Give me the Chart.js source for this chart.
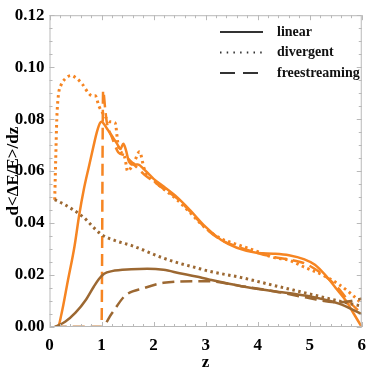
<!DOCTYPE html>
<html>
<head>
<meta charset="utf-8">
<script src="https://cdn.jsdelivr.net/npm/chart.js@4.4.1/dist/chart.umd.min.js"></script>
<style>
  html, body { margin: 0; padding: 0; background: #fff; }
  #wrap { width: 374px; height: 368px; }
</style>
</head>
<body>
<div id="wrap"><canvas id="myChart"></canvas></div>
<script>
// orange, linear
var linOrangeZ = [0.1, 0.16, 0.23, 0.35, 0.48, 0.57, 0.66, 0.76, 0.85, 0.91, 0.97, 1.0, 1.05, 1.1, 1.2, 1.3, 1.36, 1.42, 1.47, 1.52, 1.6, 1.7, 1.8, 1.9, 2.0, 2.2, 2.45, 2.7, 3.0, 3.3, 3.6, 4.0, 4.3, 4.6, 4.9, 5.1, 5.3, 5.5, 5.7, 5.85, 6.0];
var linOrangeV = [0, 0, 0.005, 0.0175, 0.031, 0.043, 0.053, 0.062, 0.070, 0.075, 0.0785, 0.079, 0.078, 0.0765, 0.0735, 0.0705, 0.0685, 0.0705, 0.068, 0.064, 0.0625, 0.0625, 0.061, 0.059, 0.057, 0.054, 0.050, 0.045, 0.0385, 0.0335, 0.0305, 0.0285, 0.0282, 0.0276, 0.026, 0.024, 0.020, 0.015, 0.010, 0.005, 0];
// orange, divergent
var divOrangeZ = [0.1, 0.12, 0.14, 0.17, 0.22, 0.3, 0.42, 0.5, 0.63, 0.75, 0.82, 0.88, 0.95, 1.07, 1.15, 1.26, 1.32, 1.45, 1.5, 1.63, 1.73, 1.82, 2.0, 2.2, 2.45, 2.7, 3.0, 3.3, 3.6, 4.0, 4.3, 4.6, 4.9, 5.25, 5.56, 5.8, 6.0];
var divOrangeV = [0.049, 0.065, 0.080, 0.089, 0.093, 0.0955, 0.0968, 0.096, 0.0935, 0.090, 0.089, 0.089, 0.085, 0.081, 0.079, 0.0786, 0.070, 0.065, 0.060, 0.0636, 0.0674, 0.061, 0.0565, 0.053, 0.049, 0.044, 0.038, 0.034, 0.0318, 0.029, 0.0268, 0.0257, 0.023, 0.020, 0.0164, 0.0127, 0.009];
// orange, freestreaming
var fsOrangeZ = [0.1, 1.0, 1.03, 1.07, 1.1, 1.2, 1.32, 1.45, 1.57, 1.7, 1.82, 2.0, 2.2, 2.45, 2.7, 3.0, 3.3, 3.6, 4.0, 4.3, 4.6, 4.9, 5.2, 5.5, 5.75, 6.0];
var fsOrangeV = [0, 0, 0.091, 0.084, 0.079, 0.073, 0.0673, 0.066, 0.0636, 0.061, 0.0587, 0.056, 0.053, 0.0495, 0.0445, 0.038, 0.0335, 0.031, 0.0285, 0.027, 0.026, 0.0245, 0.021, 0.016, 0.010, 0.005];
// brown, linear
var linBrownZ = [0.1, 0.3, 0.5, 0.7, 0.85, 0.95, 1.05, 1.2, 1.57, 1.88, 2.19, 2.5, 2.82, 3.06, 3.69, 4.31, 4.94, 5.56, 6.0];
var linBrownV = [0, 0.002, 0.0055, 0.0105, 0.0155, 0.0185, 0.0205, 0.0215, 0.0222, 0.0224, 0.022, 0.0207, 0.0194, 0.0183, 0.0157, 0.0138, 0.012, 0.009, 0.005];
// brown, divergent
var divBrownZ = [0.1, 0.3, 0.63, 1.0, 1.3, 1.57, 2.19, 2.5, 2.82, 3.06, 3.69, 4.31, 4.94, 5.56, 6.0];
var divBrownV = [0.049, 0.047, 0.0426, 0.0356, 0.033, 0.0314, 0.0265, 0.0245, 0.0228, 0.0215, 0.019, 0.016, 0.013, 0.010, 0.008];
// brown, freestreaming
var fsBrownZ = [0.1, 1.0, 1.19, 1.45, 1.82, 2.19, 2.82, 3.06, 3.69, 4.31, 4.94, 5.56, 5.8, 6.0];
var fsBrownV = [0, 0, 0.005, 0.012, 0.015, 0.017, 0.0176, 0.0176, 0.0157, 0.0138, 0.0113, 0.0095, 0.010, 0.011];

var legendNames = ['linear', 'divergent', 'freestreaming'];

const orange = 'rgb(246,133,34)';
const brown = 'rgb(156,104,50)';
const serif = '"Liberation Serif", "Times New Roman", serif';

function pts(zs, vs) {
	return zs.map((z, i) => ({x: z, y: vs[i]}));
}

function series(zs, vs, color, dash) {
	return {
		data: pts(zs, vs),
		borderColor: color,
		borderWidth: dash && dash[0] < 4 ? 3 : 2.5,
		borderDash: dash || [],
		pointRadius: 0,
		fill: false,
		cubicInterpolationMode: 'monotone'
	};
}

const frame = {
	id: 'frame',
	afterDraw(chart) {
		const ctx = chart.ctx;
		const a = chart.chartArea;
		const x = chart.scales.x;
		const y = chart.scales.y;
		ctx.save();
		ctx.strokeStyle = '#b9b9b9';
		ctx.lineWidth = 1;
		ctx.strokeRect(a.left + 0.5, a.top + 0.5, a.right - a.left - 1, a.bottom - a.top - 1);
		ctx.beginPath();
		for (let i = 0; i <= 30; i++) {
			const px = Math.round(x.getPixelForValue(i * 0.2)) + 0.5;
			const len = i % 5 == 0 ? 5 : 3;
			ctx.moveTo(px, a.bottom); ctx.lineTo(px, a.bottom - len);
			ctx.moveTo(px, a.top); ctx.lineTo(px, a.top + len);
		}
		for (let i = 0; i <= 24; i++) {
			const py = Math.round(y.getPixelForValue(i * 0.005)) + 0.5;
			const len = i % 4 == 0 ? 5 : 3;
			ctx.moveTo(a.left, py); ctx.lineTo(a.left + len, py);
			ctx.moveTo(a.right, py); ctx.lineTo(a.right - len, py);
		}
		ctx.stroke();

		// legend
		const styles = [[], [1.5, 5.2], [15, 8]];
		ctx.strokeStyle = '#333';
		ctx.fillStyle = '#111';
		ctx.font = 'bold 14px ' + serif;
		ctx.textBaseline = 'middle';
		legendNames.forEach((name, i) => {
			const ly = 32 + i * 20.5;
			ctx.beginPath();
			ctx.setLineDash(styles[i]);
			ctx.lineWidth = i == 1 ? 1.8 : 2;
			ctx.moveTo(220, ly); ctx.lineTo(263, ly);
			ctx.stroke();
			ctx.setLineDash([]);
			ctx.fillText(name, 277, ly);
		});
		ctx.restore();
	}
};

const canvas = document.getElementById('myChart');
const myChart = new Chart(canvas, {
	type: 'line',
	data: {
		datasets: [
			series(fsBrownZ, fsBrownV, brown, [12, 6]),
			series(divBrownZ, divBrownV, brown, [2.5, 3.5]),
			series(linBrownZ, linBrownV, brown),
			series(fsOrangeZ, fsOrangeV, orange, [12, 6]),
			series(divOrangeZ, divOrangeV, orange, [2.5, 3.5]),
			series(linOrangeZ, linOrangeV, orange)
		]
	},
	options: {
		responsive: true,
		maintainAspectRatio: false,
		animation: false,
		layout: {padding: {top: 6, right: 3, left: 0, bottom: 0}},
		plugins: {legend: {display: false}, tooltip: {enabled: false}},
		scales: {
			x: {
				type: 'linear',
				min: 0, max: 6,
				grid: {display: false, drawTicks: false},
				border: {display: false},
				ticks: {stepSize: 1, padding: 8, color: '#000', font: {family: serif, weight: 'bold', size: 17}},
				title: {display: true, text: 'z', color: '#000', font: {family: serif, weight: 'bold', size: 17}, padding: {top: 0, bottom: -5}},
				afterFit(s) { s.height = 41; }
			},
			y: {
				min: 0, max: 0.12,
				grid: {display: false, drawTicks: false},
				border: {display: false},
				ticks: {stepSize: 0.02, padding: 5, color: '#000', font: {family: serif, weight: 'bold', size: 17},
					callback: v => v.toFixed(2)},
				title: {display: true, text: 'd<ΔE/E>/dz', color: '#000', font: {family: serif, weight: 'bold', size: 17}, padding: {top: 3, bottom: 0}},
				afterFit(s) { s.width = 49.5; }
			}
		}
	},
	plugins: [frame]
});
</script>
</body>
</html>
